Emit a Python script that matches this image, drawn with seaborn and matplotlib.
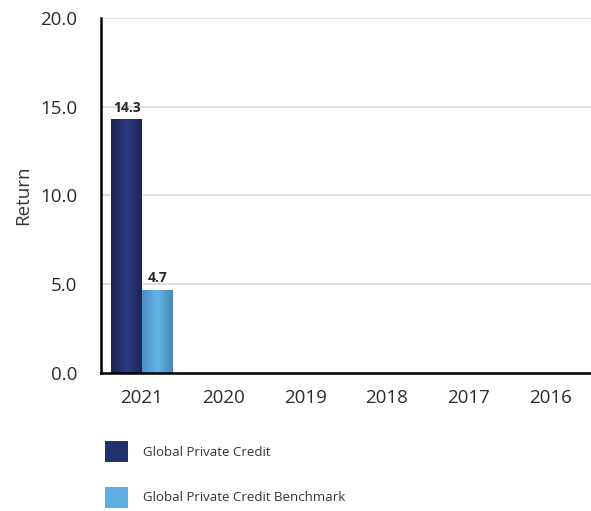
import numpy as np
import pandas as pd
import matplotlib.pyplot as plt
import seaborn as sns
from matplotlib.patches import Patch
from matplotlib.colors import LinearSegmentedColormap

sns.set_style("white")
plt.rcParams['font.family'] = ['Open Sans', 'DejaVu Sans']

# data
years = ['2021', '2020', '2019', '2018', '2017', '2016']
private_credit = [14.3, np.nan, np.nan, np.nan, np.nan, np.nan]
benchmark = [4.7, np.nan, np.nan, np.nan, np.nan, np.nan]
series = ['Global Private Credit', 'Global Private Credit Benchmark']
colors = ['#243170', '#5dade2']

df = pd.DataFrame({
    'year': years * 2,
    'value': private_credit + benchmark,
    'series': [series[0]] * len(years) + [series[1]] * len(years),
})

fig = plt.figure(figsize=(5.91, 5.11), dpi=100)
ax = fig.add_axes([0.171, 0.270, 0.829, 0.695])

sns.barplot(data=df, x='year', y='value', hue='series', order=years,
            hue_order=series, palette=colors, width=0.75, saturation=1,
            legend=False, ax=ax, zorder=3)

# gradient fill on bars
grads = [
    LinearSegmentedColormap.from_list('d', ['#1a2250', '#2a3a82', '#1d2658']),
    LinearSegmentedColormap.from_list('l', ['#4a90c2', '#63b3e8', '#4888b5']),
]
for cont, cmap in zip(ax.containers, grads):
    for p in cont.patches:
        h = p.get_height()
        if not np.isfinite(h) or h == 0:
            continue
        x0, w = p.get_x(), p.get_width()
        im = ax.imshow(np.linspace(0, 1, 100).reshape(1, -1), cmap=cmap,
                       extent=[x0, x0 + w, 0, h], aspect='auto', zorder=4)
        im.set_clip_path(p)
    ax.bar_label(cont, fmt='%.1f', padding=3, fontsize=10,
                 fontweight='bold', zorder=5)

ax.set_xlim(-0.5, 5.5)
ax.set_ylim(0, 20)
ax.set_yticks([0, 5, 10, 15, 20])
ax.set_yticklabels([f'{v:.1f}' for v in [0, 5, 10, 15, 20]])
ax.set_xlabel('')
ax.set_ylabel('Return', fontsize=13.5, color='#333333', labelpad=6)
ax.yaxis.grid(True, color='#dddddd', linewidth=1.5, zorder=0)
ax.set_axisbelow(True)

sns.despine(ax=ax, top=True, right=True)
for s in ['left', 'bottom']:
    ax.spines[s].set_color('black')
    ax.spines[s].set_linewidth(1.8)
    ax.spines[s].set_zorder(6)

ax.tick_params(axis='both', labelsize=13.5, colors='#dddddd', labelcolor='#2b2b2b',
               length=8, width=1.5, direction='out')
ax.tick_params(axis='y', pad=9)

handles = [Patch(facecolor=c, edgecolor='none') for c in colors]
fig.legend(handles, series, loc='lower left', bbox_to_anchor=(0.157, -0.017),
           frameon=False, fontsize=9.5, handlelength=1.75, handleheight=2.1,
           labelspacing=1.85, handletextpad=1.15, labelcolor='#333333')

plt.savefig('out.png', dpi=100)
